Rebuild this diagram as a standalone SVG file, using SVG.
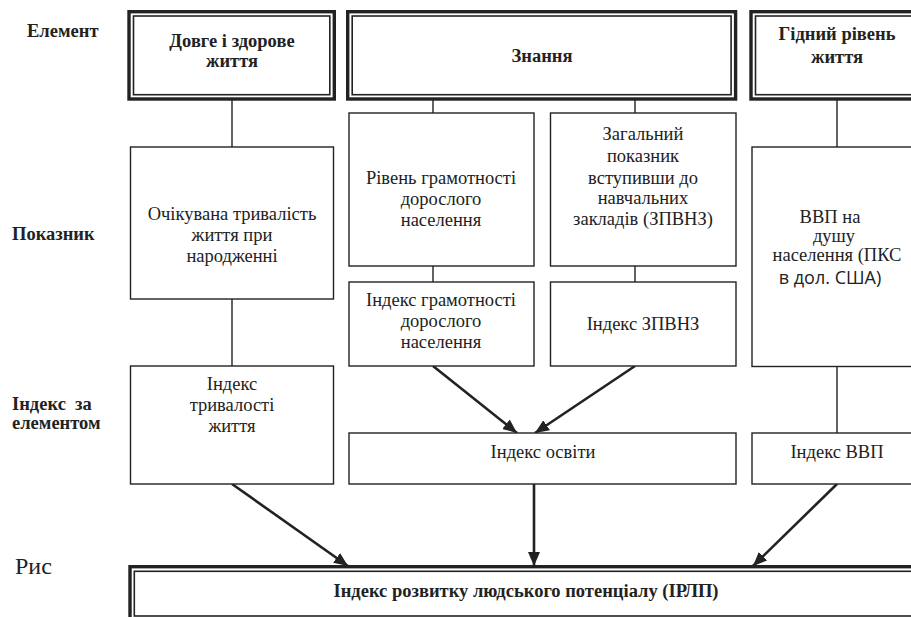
<svg xmlns="http://www.w3.org/2000/svg" width="911" height="617" viewBox="0 0 911 617">
<style>
  .bg{fill:#fff}
  .box{fill:#fff;stroke:#222;stroke-width:1.4}
  .dblo{fill:#fff;stroke:#222;stroke-width:3.4}
  .dbli{fill:none;stroke:#222;stroke-width:1.6}
  .t{font-family:"Liberation Serif","Times New Roman",serif;font-size:18.5px;fill:#222;text-anchor:middle}
  .s{font-family:"Open Sans","Noto Sans",sans-serif;font-size:18px;fill:#222;text-anchor:middle}
  .b{font-family:"Liberation Serif","Times New Roman",serif;font-size:18.5px;font-weight:bold;fill:#222;text-anchor:middle}
  .lb{font-family:"Liberation Serif","Times New Roman",serif;font-size:18.5px;font-weight:bold;fill:#222}
  .ln{stroke:#222;stroke-width:1.4;fill:none}
  .ar{stroke:#222;stroke-width:2.6;fill:none;marker-end:url(#ah)}
</style>
<defs>
  <marker id="ah" markerUnits="userSpaceOnUse" markerWidth="14" markerHeight="12" viewBox="0 0 14 12" refX="14" refY="6" orient="auto">
    <path d="M0,0 L14,6 L0,12 Z" fill="#222"/>
  </marker>
</defs>
<rect class="bg" x="0" y="0" width="911" height="617"/>

<g id="row-labels">
  <text class="lb" x="27" y="37">Елемент</text>
  <text class="lb" x="12" y="240">Показник</text>
  <text class="lb" x="12" y="410" xml:space="preserve">Індекс  за</text>
  <text class="lb" x="12" y="429">елементом</text>
  <text x="15" y="574" style="font-family:'Liberation Serif','Times New Roman',serif;font-size:24px;fill:#222">Рис</text>
</g>

<g id="connectors">
  <line class="ln" x1="232" y1="100" x2="232" y2="147"/>
  <line class="ln" x1="433" y1="100" x2="433" y2="113"/>
  <line class="ln" x1="635" y1="100" x2="635" y2="113"/>
  <line class="ln" x1="837" y1="100" x2="837" y2="147"/>
  <line class="ln" x1="232" y1="299" x2="232" y2="366"/>
  <line class="ln" x1="433" y1="266" x2="433" y2="282"/>
  <line class="ln" x1="635" y1="266" x2="635" y2="282"/>
  <line class="ln" x1="837" y1="366" x2="837" y2="433"/>
  <line class="ar" x1="433" y1="366" x2="517" y2="433"/>
  <line class="ar" x1="635" y1="366" x2="535" y2="433"/>
  <line class="ar" x1="232" y1="484" x2="348" y2="566"/>
  <line class="ar" x1="534" y1="484" x2="534" y2="566"/>
  <line class="ar" x1="837" y1="484" x2="753" y2="566"/>
</g>

<g id="element-health">
  <rect class="dblo" x="129" y="11.7" width="205.3" height="87.3"/>
  <rect class="dbli" x="133.5" y="16" width="196.3" height="78.7"/>
  <text class="b" x="232" y="47">Довге і здорове</text>
  <text class="b" x="232" y="67">життя</text>
</g>
<g id="element-knowledge">
  <rect class="dblo" x="347.7" y="11.7" width="387.9" height="87.3"/>
  <rect class="dbli" x="352.2" y="16" width="378.9" height="78.7"/>
  <text class="b" x="542" y="62">Знання</text>
</g>
<g id="element-living">
  <rect class="dblo" x="751" y="11.7" width="200" height="87.3"/>
  <rect class="dbli" x="755.5" y="16" width="191" height="78.7"/>
  <text class="b" x="837" y="40">Гідний рівень</text>
  <text class="b" x="837" y="63">життя</text>
</g>

<g id="ind-life">
  <rect class="box" x="130.5" y="147" width="203" height="152"/>
  <text class="t" x="232" y="220">Очікувана тривалість</text>
  <text class="t" x="232" y="241">життя при</text>
  <text class="t" x="232" y="262">народженні</text>
</g>
<g id="ind-literacy">
  <rect class="box" x="349" y="113" width="185" height="153"/>
  <text class="t" x="441" y="184">Рівень грамотності</text>
  <text class="t" x="441" y="205">дорослого</text>
  <text class="t" x="441" y="226">населення</text>
</g>
<g id="ind-enrol">
  <rect class="box" x="550.5" y="113" width="185.5" height="153"/>
  <text class="t" x="643" y="140">Загальний</text>
  <text class="t" x="643" y="162">показник</text>
  <text class="t" x="643" y="184">вступивши до</text>
  <text class="t" x="643" y="204">навчальних</text>
  <text class="t" x="643" y="225">закладів (ЗПВНЗ)</text>
</g>
<g id="ind-gdp">
  <rect class="box" x="752" y="147" width="180" height="219.5"/>
  <text class="t" x="830" y="223">ВВП на</text>
  <text class="t" x="834" y="242">душу</text>
  <text class="t" x="837" y="261">населення (ПКС</text>
  <text class="s" x="830" y="284">в дол. США)</text>
</g>
<g id="idx-literacy">
  <rect class="box" x="349" y="282" width="185" height="84"/>
  <text class="t" x="441" y="306">Індекс грамотності</text>
  <text class="t" x="441" y="327">дорослого</text>
  <text class="t" x="441" y="348">населення</text>
</g>
<g id="idx-enrol">
  <rect class="box" x="550.5" y="282" width="185.5" height="84"/>
  <text class="t" x="643" y="330">Індекс ЗПВНЗ</text>
</g>
<g id="idx-life">
  <rect class="box" x="130.5" y="366" width="203" height="118"/>
  <text class="t" x="232" y="390">Індекс</text>
  <text class="t" x="232" y="411">тривалості</text>
  <text class="t" x="232" y="432">життя</text>
</g>
<g id="idx-education">
  <rect class="box" x="349" y="433" width="387" height="51"/>
  <text class="t" x="543" y="458">Індекс освіти</text>
</g>
<g id="idx-gdp">
  <rect class="box" x="752" y="433" width="180" height="51"/>
  <text class="t" x="837" y="458">Індекс ВВП</text>
</g>
<g id="hdi">
  <rect class="dblo" x="130" y="566.7" width="820" height="60"/>
  <rect class="dbli" x="134.3" y="571.3" width="811" height="44.7"/>
  <text class="b" x="526" y="597">Індекс розвитку людського потенціалу (ІРЛП)</text>
</g>
</svg>
